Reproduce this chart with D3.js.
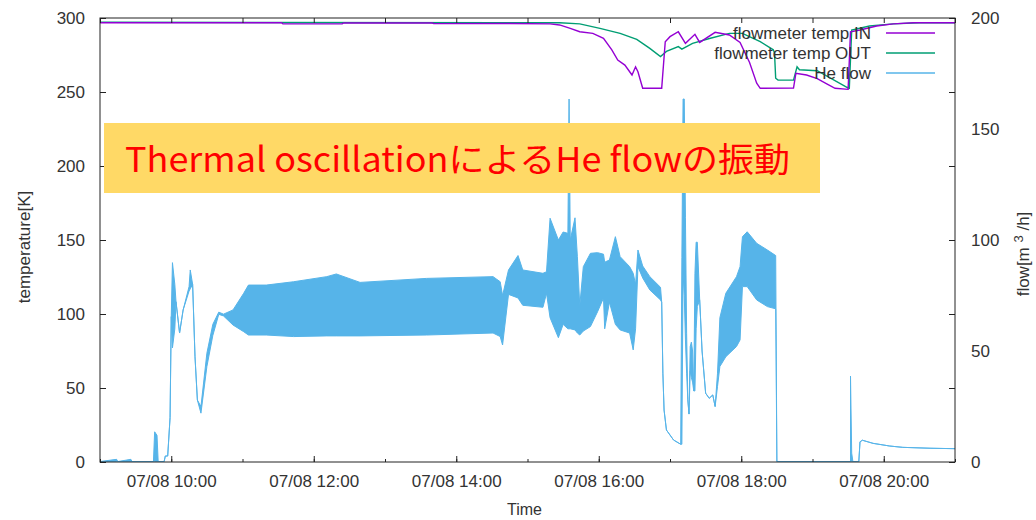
<!DOCTYPE html>
<html>
<head>
<meta charset="utf-8">
<script src="https://cdn.jsdelivr.net/npm/d3@7"></script>
<style>
  body { margin: 0; background: #fff; }
  text { font-family: "Liberation Sans", Arial, sans-serif; }
</style>
</head>
<body>
<svg id="chart" width="1036" height="520"></svg>
<script>
'use strict';

// He flow [m3/h]: envelope of the oscillation (low / high), equal where the trace is a single line
var heTimes = ['09:00','09:14','09:15','09:26','09:27','09:45','09:46','09:48','09:49','09:54','09:55','09:57','09:59',
  '10:00','10:01','10:03','10:04','10:07','10:10','10:15','10:16','10:18','10:20','10:22','10:25','10:30','10:35','10:40',
  '10:44','10:52','11:01','11:05','11:20','11:43','12:11','12:19','12:39','13:35','14:31','14:37','14:39','14:44','14:52',
  '14:56','15:13','15:16','15:19','15:26','15:30','15:34','15:35','15:36','15:40','15:42','15:44','15:47','15:53','15:59',
  '16:04','16:05','16:09','16:14','16:18','16:26','16:29','16:31','16:33','16:37','16:43','16:52','16:53','16:54','16:55',
  '16:57','17:03','17:09','17:10','17:11','17:12','17:13','17:14','17:15','17:16','17:17','17:18','17:19','17:20','17:21',
  '17:22','17:23','17:25','17:27','17:30','17:33','17:36','17:38','17:40','17:42','17:47','17:56','17:59','18:01','18:05',
  '18:13','18:22','18:29','18:30','19:32','19:32','19:33','19:34','19:39','19:40','19:42','19:51','20:05','20:16','20:39','21:00'];
var heLow = [0.2,0.2,0.2,0.2,0.2,0.2,0.2,0.2,0.2,0.2,2.7,2.7,20,
  65.5,51.4,60,72.2,58.1,68.5,77,78,80,47.4,27.9,22,43,57,66.5,
  65.8,61.7,58.7,57.2,57.2,56.5,56.8,56.8,56.8,57.2,58.1,56.5,52.7,75.5,73.9,
  70.6,69.7,76,65,56,62,60,60,60,59.5,58.1,57.2,59,61,67.7,
  73.9,60,72,62,59.5,58.1,50.5,60,88,82.9,77.5,73,72,40,23.4,
  14.4,9.9,8,8,85,75,55,40,28,21.6,41,38,36,32,32,
  60,70,73,50,31,28.7,30.2,25,34,43,47.4,52,55,79,79,
  73,70,69,0.2,0.2,0.2,0.2,0.2,0.2,9.1,9.8,8.4,7.2,6.6,6.2,6.0];
var heHigh = [0.2,1.2,0.2,1.2,0.2,0.2,13.6,12,0.2,0.2,2.7,2.7,20,
  65.5,89.8,80,72.2,58.1,68.5,79,86.5,80,47.4,27.9,25,49,62,67.5,
  66.6,68.5,76,79.7,79.7,81.2,83.5,84.7,80.9,82.7,83.5,81.2,75,86.5,93,
  86.5,85,85.7,109.8,100,103.6,103,163.5,100,110,92.5,70.3,88,94,94.3,
  93.6,90,91,101.5,92.5,88,85,80,95.5,88.3,83.5,78.7,72,40,23.4,
  14.4,9.9,8,92,163.5,163.5,110,58,28,21.6,52,54,50,32,85,
  99,99,73,50,31,28.7,30.2,25,40,65,76,83.5,88,101.5,103.7,
  98.5,95.5,93,0.2,0.2,38.7,4,0.2,0.2,9.1,9.8,8.4,7.2,6.6,6.2,6.0];

// flowmeter temperature IN [K]
var tempInTimes = ['09:00','11:33','11:34','12:24','12:25','13:40','13:41','14:45','15:19','15:27','15:36','15:44','15:55',
  '16:04','16:11','16:16','16:22','16:28','16:31','16:33','16:37','16:53','16:56','17:00','17:07','17:13','17:21','17:25',
  '17:38','17:50','17:59','18:07','18:13','18:16','18:44','18:46','18:55','19:04','19:12','19:19','19:30','19:32','19:40',
  '19:54','20:08','20:25','21:00'];
var tempIn = [296.8,296.8,296.0,296.0,296.6,296.6,296.2,296.3,296.0,295.3,293.0,290.7,289.6,
  286.3,278.4,271.6,268.2,261.5,267.0,263.7,252.5,252.5,284.0,287.4,290.7,282.9,289.0,283.5,
  290.3,288.5,283.5,270.0,256.0,252.5,252.7,262.6,261.5,259.0,255.5,252.5,251.8,290.7,291.9,
  294.6,296.0,296.8,296.8];

// flowmeter temperature OUT [K]
var tempOutTimes = ['09:00','15:27','15:44','16:01','16:18','16:32','16:43','16:52','16:57','17:07','17:10','17:19','17:34',
  '17:50','18:01','18:16','18:27','18:28','18:29','18:31','18:44','18:47','18:49','19:04','19:29','19:31','19:33','19:48',
  '20:08','20:30','21:00'];
var tempOut = [297.1,296.8,296.0,293.0,289.6,285.6,279.5,273.9,277.4,280.7,279.0,282.9,286.3,
  289.6,289.6,284.0,278.5,276.5,259.3,258.0,258.0,267.0,265.0,264.4,253.2,252.5,291.9,294.6,
  296.0,296.8,296.8];

var tempTicks = [0, 50, 100, 150, 200, 250, 300];
var flowTicks = [0, 50, 100, 150, 200];
var seriesNames = ['flowmeter temp IN', 'flowmeter temp OUT', 'He flow'];
var seriesColors = ['#9400d3', '#009e73', '#56b4e9'];
var noteText = 'Thermal oscillationによるHe flowの振動';

var margin = {top: 18, right: 81, bottom: 58, left: 100};
var width = 1036 - margin.left - margin.right;
var height = 520 - margin.top - margin.bottom;

var parseTime = d3.timeParse('%Y-%m-%d %H:%M');
function t(s) { return parseTime('2016-07-08 ' + s); }

var svg = d3.select('#chart');
var g = svg.append('g').attr('transform', 'translate(' + margin.left + ',' + margin.top + ')');

var x = d3.scaleTime().domain([t('09:00'), t('21:00')]).range([0, width]);
var yTemp = d3.scaleLinear().domain([0, 300]).range([height, 0]);
var yFlow = d3.scaleLinear().domain([0, 200]).range([height, 0]);

g.append('clipPath').attr('id', 'plot-clip')
  .append('rect').attr('width', width).attr('height', height);

var plot = g.append('g').attr('clip-path', 'url(#plot-clip)');

// He flow (right axis)
var heData = heTimes.map(function(d, i) { return {t: t(d), lo: heLow[i], hi: heHigh[i]}; });
plot.append('path')
  .datum(heData)
  .attr('fill', seriesColors[2])
  .attr('stroke', seriesColors[2])
  .attr('stroke-width', 1)
  .attr('stroke-linejoin', 'round')
  .attr('d', d3.area()
    .x(function(d) { return x(d.t); })
    .y0(function(d) { return yFlow(d.lo); })
    .y1(function(d) { return yFlow(d.hi); }));

// temperatures (left axis)
var tempLine = d3.line()
  .x(function(d) { return x(d.t); })
  .y(function(d) { return yTemp(d.v); });

plot.append('path')
  .datum(tempOutTimes.map(function(d, i) { return {t: t(d), v: tempOut[i]}; }))
  .attr('fill', 'none')
  .attr('stroke', seriesColors[1])
  .attr('stroke-width', 1.4)
  .attr('d', tempLine);

plot.append('path')
  .datum(tempInTimes.map(function(d, i) { return {t: t(d), v: tempIn[i]}; }))
  .attr('fill', 'none')
  .attr('stroke', seriesColors[0])
  .attr('stroke-width', 1.4)
  .attr('d', tempLine);

// axes, ticks inward like gnuplot
function styleAxis(sel) {
  sel.select('.domain').remove();
  sel.selectAll('.tick line').attr('stroke', '#222');
  sel.selectAll('.tick text').attr('fill', '#333').style('font-size', '17px');
}

g.append('g')
  .attr('transform', 'translate(0,' + height + ')')
  .call(d3.axisBottom(x).ticks(d3.timeHour.every(2)).tickSizeInner(-6).tickSizeOuter(0)
    .tickPadding(13).tickFormat(d3.timeFormat('%m/%d %H:%M')))
  .call(styleAxis);

g.append('g')
  .attr('transform', 'translate(0,' + height + ')')
  .call(d3.axisBottom(x).ticks(d3.timeHour.every(1)).tickSizeInner(-3).tickSizeOuter(0).tickFormat(''))
  .call(styleAxis);

g.append('g')
  .call(d3.axisTop(x).ticks(d3.timeHour.every(1)).tickSizeInner(-5).tickSizeOuter(0).tickFormat(''))
  .call(styleAxis);

g.append('g')
  .call(d3.axisLeft(yTemp).tickValues(tempTicks).tickSizeInner(-6).tickSizeOuter(0).tickPadding(15))
  .call(styleAxis);

g.append('g')
  .attr('transform', 'translate(' + width + ',0)')
  .call(d3.axisRight(yTemp).tickValues(tempTicks).tickSizeInner(-6).tickSizeOuter(0).tickFormat(''))
  .call(styleAxis);

g.append('g')
  .attr('transform', 'translate(' + width + ',0)')
  .call(d3.axisRight(yFlow).tickValues(flowTicks).tickSizeInner(0).tickSizeOuter(0).tickPadding(16))
  .call(styleAxis);

g.append('rect')
  .attr('width', width)
  .attr('height', height)
  .attr('fill', 'none')
  .attr('stroke', '#222')
  .attr('stroke-width', 1);

// axis titles
svg.append('text')
  .attr('transform', 'translate(30,247) rotate(-90)')
  .attr('text-anchor', 'middle')
  .attr('fill', '#333')
  .style('font-size', '17px')
  .text('temperature[K]');

var flowTitle = svg.append('text')
  .attr('transform', 'translate(1029,254) rotate(-90)')
  .attr('text-anchor', 'middle')
  .attr('fill', '#333')
  .style('font-size', '17px');
flowTitle.append('tspan').text('flow[m ');
flowTitle.append('tspan').attr('dy', -6).style('font-size', '13px').text('3');
flowTitle.append('tspan').attr('dy', 6).text(' /h]');

svg.append('text')
  .attr('x', margin.left + width / 2 - 3)
  .attr('y', 515)
  .attr('text-anchor', 'middle')
  .attr('fill', '#333')
  .style('font-size', '16px')
  .text('Time');

// key
var key = g.selectAll('.key')
  .data(seriesNames)
  .enter()
  .append('g')
  .attr('class', 'key')
  .attr('transform', function(d, i) { return 'translate(0,' + (15 + i * 20) + ')'; });

key.append('line')
  .attr('x1', 786).attr('x2', 835)
  .attr('stroke', function(d, i) { return seriesColors[i]; })
  .attr('stroke-width', 1.4);

key.append('text')
  .attr('x', 771)
  .attr('dy', '0.35em')
  .attr('text-anchor', 'end')
  .attr('fill', '#333')
  .style('font-size', '17px')
  .text(function(d) { return d; });

// slide annotation laid over the plot
svg.append('rect')
  .attr('x', 104).attr('y', 123)
  .attr('width', 716).attr('height', 70)
  .attr('fill', '#ffd966');

svg.append('text')
  .attr('x', 125).attr('y', 172)
  .attr('textLength', 665)
  .attr('lengthAdjust', 'spacingAndGlyphs')
  .attr('fill', '#ff0000')
  .style('font-family', '"Noto Sans CJK JP", "Noto Sans", sans-serif')
  .style('font-size', '34px')
  .text(noteText);
</script>
</body>
</html>
